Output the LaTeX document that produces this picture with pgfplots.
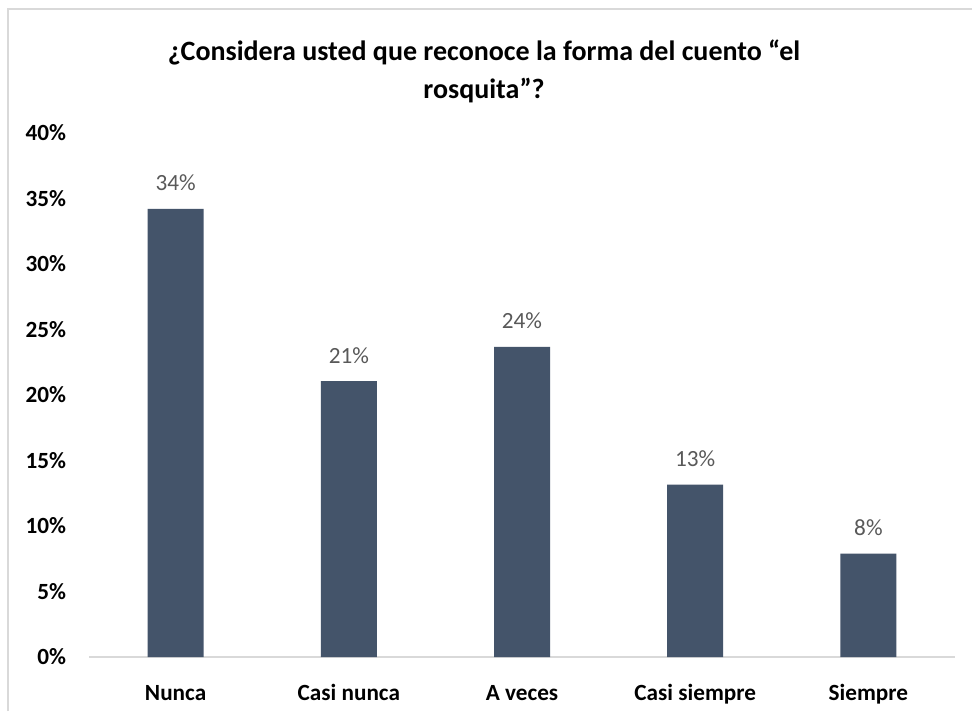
\documentclass[border=0pt]{standalone}
\usepackage{fontspec}
\setmainfont{Carlito}
\usepackage{pgfplots}
\pgfplotsset{compat=1.18}
\definecolor{barc}{HTML}{44546A}
\definecolor{lblc}{HTML}{595959}
\definecolor{linec}{HTML}{D9D9D9}
\begin{document}
\begin{tikzpicture}
\useasboundingbox (0,0) rectangle (486pt,355.5pt);
\fill[white] (0,0) rectangle (486pt,355.5pt);
% chart border (only top and left visible)
\draw[linec, line width=0.8pt] (4pt,0) -- (4pt,351pt) -- (486pt,351pt);
\node[align=center, font=\fontsize{14}{19}\selectfont\bfseries] at (242pt,320pt)
  {¿Considera usted que reconoce la forma del cuento “el\\rosquita”?};
\begin{axis}[
    at={(44.5pt,27pt)}, anchor=south west,
    scale only axis, width=433pt, height=262pt,
    ybar, bar width=28pt,
    xmin=-0.5, xmax=4.5, ymin=0, ymax=40,
    xtick={0,1,2,3,4},
    xticklabels={Nunca,Casi nunca,A veces,Casi siempre,Siempre},
    ytick={0,5,...,40},
    yticklabel={\pgfmathprintnumber{\tick}\%},
    /pgf/number format/assume math mode=true,
    axis x line*=bottom, axis y line*=left,
    x axis line style={draw=linec, line width=0.8pt, -},
    y axis line style={draw=none},
    tick style={draw=none},
    ticklabel style={font=\fontsize{11.6}{13}\selectfont\bfseries},
    xticklabel style={anchor=base, yshift=-17.5pt},
    yticklabel style={anchor=east, xshift=-8pt},
    nodes near coords={\pgfmathprintnumber[fixed,precision=0]{\pgfplotspointmeta}\%},
    nodes near coords style={font=\fontsize{11.6}{13}\selectfont, text=lblc, anchor=base, yshift=9pt},
    clip=false,
]
\addplot[fill=barc, draw=none] coordinates {(0,34.21) (1,21.05) (2,23.68) (3,13.16) (4,7.89)};
\end{axis}
\end{tikzpicture}
\end{document}
